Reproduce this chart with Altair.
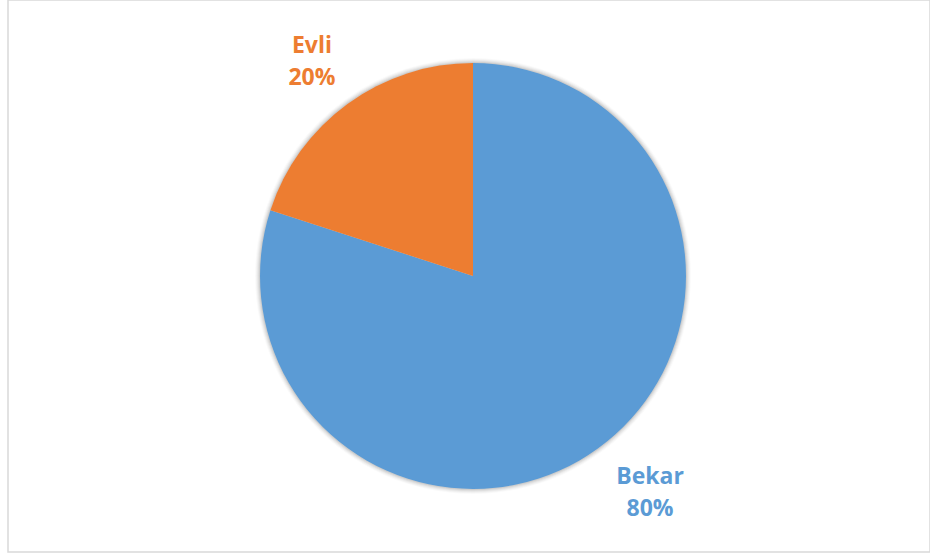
import altair as alt
import pandas as pd

categories = ["Bekar", "Evli"]
values = [80, 20]
labels = ["Bekar\n80%", "Evli\n20%"]
colors = ["#5B9BD5", "#ED7D31"]

df = pd.DataFrame({
    "category": categories,
    "value": values,
    "label": labels,
    "order": list(range(len(categories))),
})
TOTAL = float(sum(values))

CX, CY, R = 465, 276, 213

base = alt.Chart(df).encode(
    theta=alt.Theta("value:Q", stack=True, scale=alt.Scale(domain=[0, TOTAL])),
    order=alt.Order("order:Q"),
)

shadows = [
    base.mark_arc(radius=R + s, fill="#000000", opacity=o).encode(
        x=alt.value(CX), y=alt.value(CY)
    )
    for s, o in [(5, 0.02), (4, 0.03), (3, 0.04), (2, 0.05), (1, 0.07)]
]

color_enc = alt.Color("category:N",
                      scale=alt.Scale(domain=categories, range=colors),
                      legend=None)

pie = base.mark_arc(radius=R).encode(
    x=alt.value(CX), y=alt.value(CY), color=color_enc,
)

stacked = alt.Chart(df).transform_stack(
    stack="value", groupby=[], as_=["v0", "v1"],
    sort=[alt.SortField("order")],
).transform_calculate(mid="(datum.v0 + datum.v1) / 2")


def label_layer(cat, dx, dy):
    return stacked.transform_filter(alt.datum.category == cat).mark_text(
        radius=274, font="Open Sans", fontSize=23, fontWeight="bold",
        lineBreak="\n", lineHeight=32, align="center", baseline="middle",
        dx=dx, dy=dy,
    ).encode(
        theta=alt.Theta("mid:Q", stack=None,
                        scale=alt.Scale(domain=[0, TOTAL])),
        x=alt.value(CX), y=alt.value(CY),
        text="label:N", color=color_enc,
    )


text_bekar = label_layer("Bekar", 16, -21)
text_evli = label_layer("Evli", 0, -8)

chart = alt.layer(*shadows, pie, text_bekar, text_evli).properties(
    width=922, height=552,
    padding={"left": 8, "top": 0, "right": 0, "bottom": 4},
    background="white",
).configure_view(stroke="#d9d9d9", strokeWidth=1.5)

chart.save("out.html", embed_options={"renderer": "svg", "actions": False})
